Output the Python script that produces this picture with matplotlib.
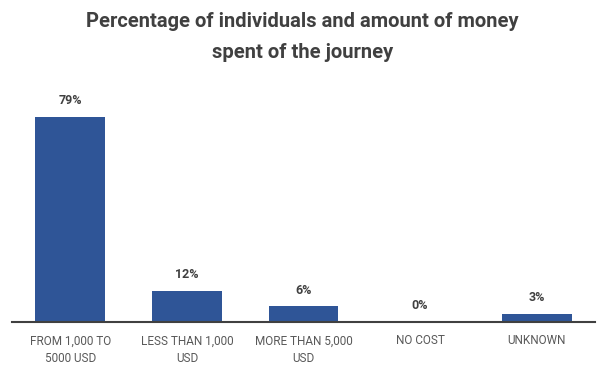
import matplotlib.pyplot as plt

# data
categories = ['FROM 1,000 TO\n5000 USD', 'LESS THAN 1,000\nUSD', 'MORE THAN 5,000\nUSD', 'NO COST', 'UNKNOWN']
values = [79, 12, 6, 0, 3]

plt.rcParams['font.family'] = ['Roboto', 'DejaVu Sans']

fig = plt.figure(figsize=(6.02, 3.67), dpi=100)
ax = fig.add_axes([12 / 602, 45 / 367, 583 / 602, 234 / 367])

x = range(len(categories))
bars = ax.bar(x, values, width=0.6, color='#2F5597')

for xi, v in zip(x, values):
    ax.text(xi, v + 3.8, f'{v}%', ha='center', va='bottom', fontsize=9,
            fontweight='bold', color='#404040')

ax.set_xlim(-0.5, 4.5)
ax.set_ylim(0, 90)
ax.set_xticks(list(x))
ax.set_xticklabels(categories, fontsize=8.5, color='#595959', linespacing=1.5)
ax.tick_params(axis='x', length=0, pad=9)
ax.set_yticks([])
for s in ['top', 'right', 'left']:
    ax.spines[s].set_visible(False)
ax.spines['bottom'].set_color('#404040')
ax.spines['bottom'].set_linewidth(1.5)

fig.text(0.503, 0.968, 'Percentage of individuals and amount of money\nspent of the journey',
         ha='center', va='top', fontsize=14.5, fontweight='bold', color='#404040',
         linespacing=1.8)

fig.savefig('out.png', dpi=100)
